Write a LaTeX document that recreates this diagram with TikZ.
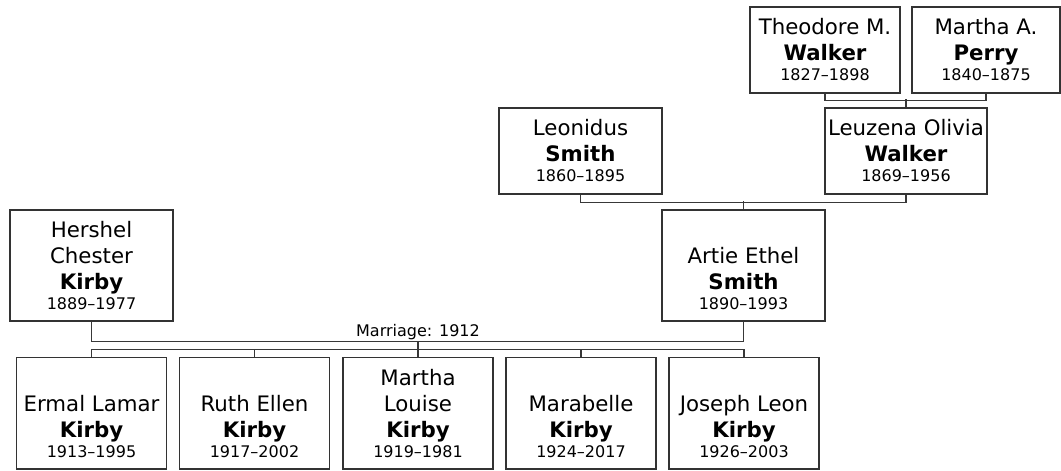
\documentclass[tikz,border=0pt]{standalone}
\usepackage{fontspec}
\setmainfont{DejaVu Sans}
\usetikzlibrary{calc}
\begin{document}
\begin{tikzpicture}[x=1pt,y=-1pt,
  pbox/.style={draw=black!80, line width=1.3pt, inner sep=0pt, align=center,
    font=\fontsize{21.3}{26}\selectfont, text=black},
  smallbox/.style={pbox, minimum height=86pt},
  tallbox/.style={pbox, minimum height=111pt},
  kidbox/.style={pbox, minimum width=150pt, minimum height=111.5pt},
  link/.style={draw=black!78, line width=1.3pt},
  lbl/.style={font=\fontsize{16}{19}\selectfont, inner sep=0pt, text=black}]
\useasboundingbox (0,0) rectangle (1061,471);

% great-grandparents
\node[smallbox, minimum width=150pt] (theo) at (825,50)
  {Theodore M.\\\textbf{Walker}\\[-6pt]{\fontsize{16}{20}\selectfont 1827–1898}};
\node[smallbox, minimum width=148pt] (mperry) at (986,50)
  {Martha A.\\\textbf{Perry}\\[-6pt]{\fontsize{16}{20}\selectfont 1840–1875}};

% grandparents
\node[smallbox, minimum width=163pt] (leon) at (580.5,151)
  {Leonidus\\\textbf{Smith}\\[-6pt]{\fontsize{16}{20}\selectfont 1860–1895}};
\node[smallbox, minimum width=162pt] (leuz) at (906,151)
  {Leuzena Olivia\\\textbf{Walker}\\[-6pt]{\fontsize{16}{20}\selectfont 1869–1956}};

% parents
\node[tallbox, minimum width=163pt] (hersh) at (91.5,265.5)
  {Hershel\\Chester\\\textbf{Kirby}\\[-6pt]{\fontsize{16}{20}\selectfont 1889–1977}};
\node[tallbox, minimum width=163pt] (artie) at (743.5,265.5)
  {\vphantom{Hh}\\Artie Ethel\\\textbf{Smith}\\[-6pt]{\fontsize{16}{20}\selectfont 1890–1993}};

% children
\node[kidbox] (c1) at (91.5,413.25)
  {\vphantom{Hh}\\Ermal Lamar\\\textbf{Kirby}\\[-6pt]{\fontsize{16}{20}\selectfont 1913–1995}};
\node[kidbox] (c2) at (254.5,413.25)
  {\vphantom{Hh}\\Ruth Ellen\\\textbf{Kirby}\\[-6pt]{\fontsize{16}{20}\selectfont 1917–2002}};
\node[kidbox] (c3) at (418,413.25)
  {Martha\\Louise\\\textbf{Kirby}\\[-6pt]{\fontsize{16}{20}\selectfont 1919–1981}};
\node[kidbox] (c4) at (581,413.25)
  {\vphantom{Hh}\\Marabelle\\\textbf{Kirby}\\[-6pt]{\fontsize{16}{20}\selectfont 1924–2017}};
\node[kidbox] (c5) at (744,413.25)
  {\vphantom{Hh}\\Joseph Leon\\\textbf{Kirby}\\[-6pt]{\fontsize{16}{20}\selectfont 1926–2003}};

% connectors
\draw[link] (theo.south) -- ++(0,7) -| (mperry.south);
\draw[link] (leuz.north) -- ++(0,-8);
\draw[link] (leon.south) -- ++(0,8) -| (leuz.south);
\draw[link] (artie.north) -- ++(0,-8);

\coordinate (marr) at ($(c3.north)+(0,-15.5)$);
\draw[link] (hersh.south) |- (marr) -| (artie.south);
\node[lbl, anchor=base] (mlabel) at ($(marr)+(0,-5)$) {Marriage: 1912};
\draw[link] (marr) -- (c3.north);
\draw[link] (c1.north) -- ++(0,-7.5) -| (c5.north);
\draw[link] (c2.north) -- ++(0,-7.5);
\draw[link] (c4.north) -- ++(0,-7.5);
\end{tikzpicture}
\end{document}
